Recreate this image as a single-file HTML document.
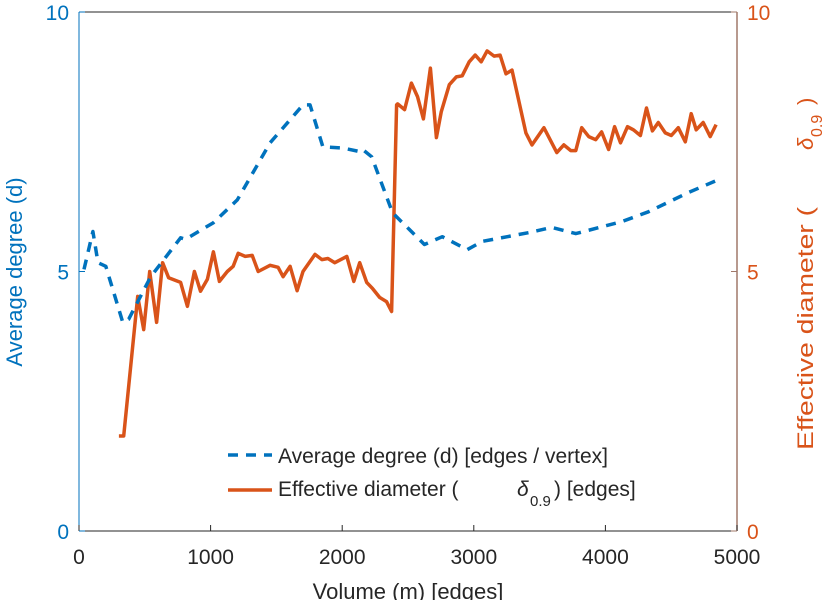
<!DOCTYPE html>
<html><head><meta charset="utf-8"><style>
body{margin:0;background:#fff}
svg{display:block;font-family:"Liberation Sans",sans-serif}
</style></head><body>
<svg id="chart" width="829" height="600" viewBox="0 0 829 600" xmlns="http://www.w3.org/2000/svg">
<g id="axes"></g>
<g id="series"></g>
<g id="legend">
 <line x1="228" y1="455" x2="272" y2="455" stroke="#0072BD" stroke-width="3.5" stroke-dasharray="10,8"/>
 <text x="278" y="463" font-size="21" fill="#262626">Average degree (d) [edges / vertex]</text>
 <line x1="228" y1="490" x2="272" y2="490" stroke="#D95319" stroke-width="3.5"/>
 <text x="278" y="496" font-size="21" fill="#262626">Effective diameter (</text>
 <text x="517" y="496" font-size="21" font-style="italic" fill="#262626">δ</text>
 <text x="530" y="506" font-size="15" fill="#262626">0.9</text>
 <text x="554" y="496" font-size="21" fill="#262626">) [edges]</text>
</g>
<text x="408" y="599" font-size="22" text-anchor="middle" fill="#262626">Volume (m) [edges]</text>
<text transform="translate(22,272) rotate(-90)" font-size="22" text-anchor="middle" fill="#0072BD">Average degree (d)</text>
<g transform="translate(813,450) rotate(-90)" fill="#D95319">
 <text x="0" y="0" font-size="22" textLength="243" lengthAdjust="spacingAndGlyphs">Effective diameter (</text>
 <text x="300" y="0" font-size="22" font-style="italic">δ</text>
 <text x="313" y="9" font-size="16">0.9</text>
 <text x="345" y="0" font-size="22">)</text>
</g>
</svg>
<script>
const xTicks=[0,1000,2000,3000,4000,5000];
const yTicks=[0,5,10];
const degX=[38,106,144,204,333,378,545,772,809,1021,1203,1452,1702,1755,1853,2005,2133,2156,2224,2383,2511,2625,2761,2950,3064,3419,3593,3775,4123,4327,4629,4841];
const degY=[5.04,5.77,5.17,5.10,4.02,4.08,4.90,5.65,5.62,5.94,6.38,7.48,8.21,8.21,7.40,7.38,7.31,7.35,7.21,6.13,5.81,5.52,5.67,5.42,5.58,5.75,5.85,5.73,5.96,6.15,6.52,6.75];
const diaX=[303,340,446,492,537,590,635,681,772,824,877,923,976,1021,1067,1127,1172,1210,1263,1316,1362,1452,1513,1551,1604,1657,1702,1793,1846,1891,1944,2035,2088,2133,2186,2231,2284,2337,2375,2413,2421,2474,2526,2572,2617,2670,2716,2753,2814,2867,2912,2965,3011,3056,3101,3154,3200,3245,3290,3396,3442,3533,3631,3684,3737,3775,3820,3873,3926,3971,4024,4070,4115,4168,4213,4266,4312,4357,4402,4455,4501,4554,4607,4652,4690,4743,4796,4841];
const diaY=[1.83,1.83,4.52,3.88,5.0,4.02,5.17,4.88,4.79,4.33,5.0,4.62,4.85,5.38,4.81,5.0,5.10,5.35,5.29,5.31,5.0,5.12,5.08,4.90,5.10,4.63,5.0,5.33,5.23,5.25,5.17,5.29,4.81,5.17,4.79,4.67,4.50,4.42,4.23,8.21,8.23,8.12,8.63,8.37,7.94,8.92,7.58,8.08,8.60,8.75,8.77,9.04,9.17,9.04,9.25,9.15,9.17,8.81,8.88,7.67,7.44,7.77,7.29,7.44,7.33,7.33,7.77,7.60,7.54,7.69,7.35,7.79,7.48,7.79,7.73,7.62,8.15,7.71,7.87,7.67,7.62,7.77,7.50,8.04,7.73,7.87,7.60,7.83];
const X0=79,X1=737,Y0=531,Y1=12;
const sx=v=>X0+(v-0)/(5000-0)*(X1-X0);
const sy=v=>Y0-(v-0)/(10-0)*(Y0-Y1);
const NS="http://www.w3.org/2000/svg";
function mk(tag,attrs,parent,txt){const e=document.createElementNS(NS,tag);for(const k in attrs)e.setAttribute(k,attrs[k]);if(txt!==undefined)e.textContent=txt;parent.appendChild(e);return e;}
const axes=document.getElementById('axes');
let e;
e=mk('line',{x1:X0,y1:Y0,x2:X1,y2:Y0,stroke:'#262626','stroke-width':1},axes);


e=mk('line',{x1:X0,y1:Y1,x2:X1,y2:Y1,stroke:'#262626','stroke-width':1},axes);


e=mk('line',{x1:X0,y1:Y0,x2:X0,y2:Y1,stroke:'#0072BD','stroke-width':1},axes);


e=mk('line',{x1:X1,y1:Y0,x2:X1,y2:Y1,stroke:'#A0786A','stroke-width':1.5},axes);


xTicks.forEach(t=>{
 const x=sx(t);
 e=mk('line',{x1:x,y1:Y0,x2:x,y2:Y0-6,stroke:'#262626'},axes);
 
 
 e=mk('text',{x:x,y:564,'font-size':21,'text-anchor':'middle',fill:'#262626'},axes,String(t));
 
 
});
yTicks.forEach(t=>{
 const y=sy(t);
 e=mk('line',{x1:X0,y1:y,x2:X0+6,y2:y,stroke:'#0072BD'},axes);
 
 
 e=mk('text',{x:X0-10,y:y+8,'font-size':21,'text-anchor':'end',fill:'#0072BD'},axes,String(t));
 
 
 e=mk('line',{x1:X1,y1:y,x2:X1-6,y2:y,stroke:'#A0786A'},axes);
 
 
 e=mk('text',{x:X1+10,y:y+8,'font-size':21,'text-anchor':'start',fill:'#D95319'},axes,String(t));
 
 
});
const ser=document.getElementById('series');
const pts=(xs,ys)=>xs.map((v,i)=>sx(v).toFixed(1)+','+sy(ys[i]).toFixed(1)).join(' ');
e=mk('polyline',{points:pts(diaX,diaY),fill:'none',stroke:'#D95319','stroke-width':3.5,'stroke-linejoin':'round'},ser);


e=mk('polyline',{points:pts(degX,degY),fill:'none',stroke:'#0072BD','stroke-width':3.5,'stroke-dasharray':'10,8','stroke-linejoin':'round'},ser);


</script>
</body></html>
